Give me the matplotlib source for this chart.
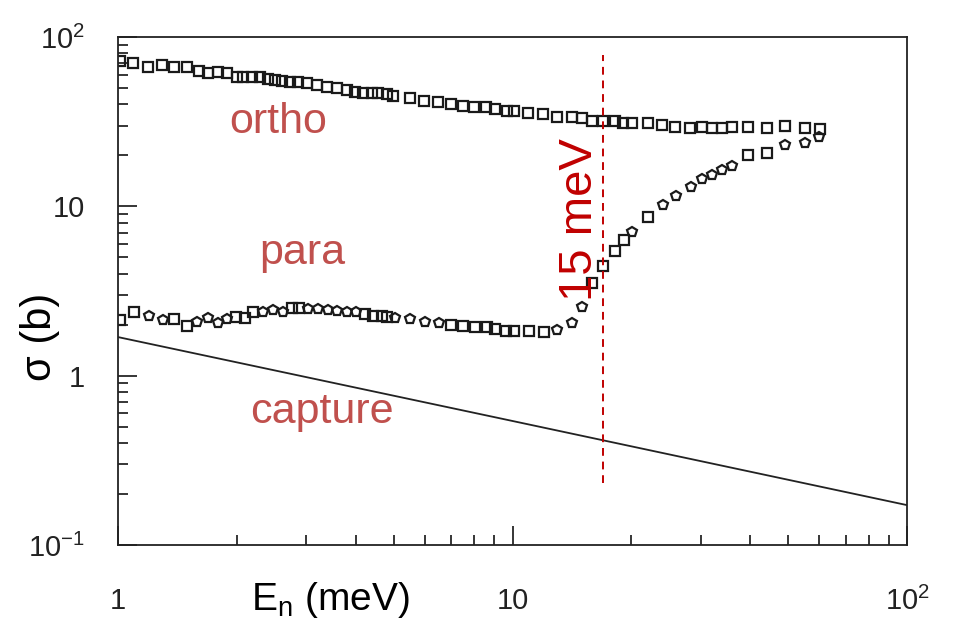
import matplotlib
matplotlib.use("Agg")
import matplotlib.pyplot as plt
from matplotlib.ticker import FuncFormatter, LogLocator, NullFormatter

plt.rcParams['font.family'] = ['Liberation Sans', 'DejaVu Sans']
plt.rcParams['mathtext.default'] = 'regular'

# ---- data ----
ortho_E = [1.01, 1.09, 1.19, 1.29, 1.39, 1.50, 1.60, 1.69, 1.79, 1.89, 2.00, 2.07, 2.19,
           2.29, 2.40, 2.50, 2.60, 2.73, 2.86, 3.01, 3.20, 3.39, 3.59, 3.81, 3.99, 4.18,
           4.41, 4.56, 4.81, 4.98, 5.50, 5.97, 6.48, 6.99, 7.49, 7.99, 8.57, 9.03, 9.68,
           10.09, 10.95, 11.95, 12.97, 14.15, 15.01, 15.91, 16.96, 18.19, 19.06, 20.09,
           22.06, 23.93, 25.82, 28.18, 30.23, 32.05, 33.97, 36.01, 39.54, 44.17, 49.07,
           55.13, 60.19]
ortho_sigma = [72.1, 70.2, 66.5, 68.3, 66.5, 66.5, 63.0, 61.3, 62.1, 61.3, 58.0, 58.0, 58.0,
               58.0, 56.5, 55.7, 55.0, 54.2, 54.2, 53.5, 52.1, 50.7, 50.0, 48.6, 47.3, 46.7,
               46.7, 46.7, 46.1, 44.8, 43.6, 41.9, 41.3, 40.2, 39.1, 38.6, 38.6, 37.6, 36.6,
               36.6, 35.6, 35.1, 33.7, 33.7, 33.2, 31.9, 31.9, 31.9, 31.0, 31.0,
               31.0, 30.2, 29.4, 29.0, 29.4, 29.0, 29.0, 29.4, 29.4, 29.0, 29.8,
               29.0, 28.6]

para_sq_E = [1.01, 1.10, 1.39, 1.50, 1.99, 2.10, 2.20, 2.76, 2.88, 4.23, 4.43, 4.67, 4.81,
             6.99, 7.49, 8.03, 8.62, 9.03, 9.63, 10.09, 11.01, 12.02,
             15.91, 16.96, 18.19, 19.17, 22.06, 39.54, 44.17]
para_sq_sigma = [2.13, 2.38, 2.16, 1.96, 2.22, 2.19, 2.38, 2.51, 2.51, 2.31, 2.25, 2.25, 2.22,
                 1.99, 1.96, 1.94, 1.94, 1.88, 1.83, 1.83, 1.83, 1.81,
                 3.52, 4.44, 5.45, 6.32, 8.65, 20.1, 20.6]

para_pt_E = [1.20, 1.30, 1.59, 1.69, 1.79, 1.89, 2.33, 2.47, 2.62, 3.03, 3.21, 3.41, 3.59,
             3.81, 4.01, 5.04, 5.50, 6.00, 6.51, 12.97, 14.15, 15.01,
             20.09, 24.07, 25.97, 28.35, 30.23, 32.05, 33.97, 36.01, 49.07, 55.13, 59.8]
para_pt_sigma = [2.25, 2.13, 2.07, 2.19, 2.05, 2.16, 2.38, 2.44, 2.38, 2.47, 2.47, 2.44, 2.41,
                 2.38, 2.38, 2.19, 2.16, 2.07, 2.05, 1.86, 2.05, 2.54,
                 7.05, 10.2, 11.5, 13.0, 14.5, 15.3, 16.4, 17.3, 23.0, 23.6, 25.7]

capture_E = [1.0, 10.0, 100.0]
capture_sigma = [1.69, 0.54, 0.172]

marker_line_E = [17.0, 17.0]
marker_line_sigma = [0.232, 78.0]

tick_labels = {0.1: r'$10^{-1}$', 1.0: '1', 10.0: '10', 100.0: r'$10^{2}$'}

# ---- figure ----
fig = plt.figure(figsize=(9.6, 6.25), dpi=100)
ax = fig.add_axes([118/960, 1-545/625, (907-118)/960, (545-37)/625])
ax.set_xscale('log')
ax.set_yscale('log')
ax.set_xlim(1, 100)
ax.set_ylim(0.1, 100)

mk = dict(ls='none', mfc='none', mec='#1a1a1a', mew=1.6)
ax.plot(ortho_E, ortho_sigma, marker='s', ms=7.5, **mk)
ax.plot(para_sq_E, para_sq_sigma, marker='s', ms=7.5, **mk)
ax.plot(para_pt_E, para_pt_sigma, marker='p', ms=7.5, **mk)
ax.plot(capture_E, capture_sigma, color='#222222', lw=1.3)
ax.plot(marker_line_E, marker_line_sigma, color='#C00000', lw=1.4, dashes=(4, 3))

ax.text(2.54, 31.5, 'ortho', color='#C0504D', fontsize=31, ha='center', va='center')
ax.text(2.94, 5.3, 'para', color='#C0504D', fontsize=31, ha='center', va='center')
ax.text(3.29, 0.61, 'capture', color='#C0504D', fontsize=31, ha='center', va='center')
ax.text(14.8, 8.3, '15 meV', color='#C00000', fontsize=34, rotation=90,
        ha='center', va='center')

fmt = FuncFormatter(lambda v, p: tick_labels.get(round(v, 6), ''))
for axis in (ax.xaxis, ax.yaxis):
    axis.set_major_locator(LogLocator(base=10, numticks=10))
    axis.set_minor_locator(LogLocator(base=10, subs=range(2, 10), numticks=20))
    axis.set_major_formatter(fmt)
    axis.set_minor_formatter(NullFormatter())

ax.tick_params(which='both', direction='in', top=False, right=False, color='black', width=1.1)
ax.tick_params(which='major', length=14)
ax.tick_params(which='minor', length=7)
ax.tick_params(axis='x', which='major', pad=30, labelsize=21, labelcolor='#222222')
ax.tick_params(axis='y', which='major', pad=24, labelsize=21, labelcolor='#222222')
for s in ax.spines.values():
    s.set_linewidth(1.3)
    s.set_color('#222222')

fig.text(330/960, 1-600/625, r'E$_{n}$ (meV)', fontsize=28, ha='center', va='center')
fig.text(40/960, 1-337/625, 'σ (b)', fontsize=30, rotation=90, ha='center', va='center')

fig.savefig('out.png', dpi=100)
